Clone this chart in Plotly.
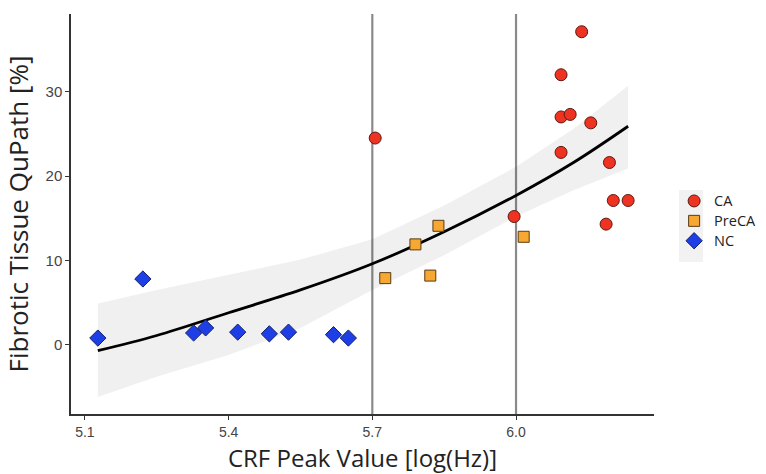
import plotly.graph_objects as go

# ---- data ----
ca_x = [5.706, 6.137, 6.094, 6.094, 6.113, 6.156, 6.094, 6.195, 6.203, 6.234, 6.188, 5.996]
ca_y = [24.5, 37.1, 32.0, 27.0, 27.3, 26.3, 22.8, 21.6, 17.1, 17.1, 14.3, 15.2]

preca_x = [5.727, 5.790, 5.821, 5.838, 6.016]
preca_y = [7.9, 11.9, 8.2, 14.1, 12.8]

nc_x = [5.127, 5.221, 5.327, 5.352, 5.419, 5.485, 5.525, 5.619, 5.650]
nc_y = [0.8, 7.8, 1.4, 2.0, 1.5, 1.3, 1.5, 1.2, 0.8]

fit_x = [5.127, 5.25, 5.4, 5.55, 5.7, 5.85, 6.0, 6.12, 6.234]
fit_y = [-0.7, 1.1, 3.8, 6.5, 9.6, 13.4, 17.7, 21.6, 25.9]
fit_hi = [4.9, 6.5, 8.3, 10.1, 12.5, 16.5, 21.1, 25.6, 30.7]
fit_lo = [-6.2, -3.8, -1.2, 2.0, 6.5, 10.6, 15.2, 18.3, 20.9]

thresholds = [5.7, 6.0]
x_ticks = [5.1, 5.4, 5.7, 6.0]
y_ticks = [0, 10, 20, 30]
groups = ["CA", "PreCA", "NC"]


def leg(name):
    return "<span style='font-size:14.5px'>%s</span>" % name


fig = go.Figure()

# confidence band
fig.add_trace(go.Scatter(x=fit_x + fit_x[::-1], y=fit_hi + fit_lo[::-1],
                         fill="toself", fillcolor="rgba(0,0,0,0.06)",
                         line=dict(width=0), mode="lines",
                         showlegend=False, hoverinfo="skip"))
# fit line
fig.add_trace(go.Scatter(x=fit_x, y=fit_y, mode="lines",
                         line=dict(color="black", width=2.8, shape="spline"),
                         showlegend=False, hoverinfo="skip"))

# points
fig.add_trace(go.Scatter(x=ca_x, y=ca_y, mode="markers", name=leg(groups[0]),
                         marker=dict(symbol="circle", size=12, color="#EE3322",
                                     line=dict(color="#5a1a10", width=1))))
fig.add_trace(go.Scatter(x=preca_x, y=preca_y, mode="markers", name=leg(groups[1]),
                         marker=dict(symbol="square", size=11, color="#F7A832",
                                     line=dict(color="#5a3a10", width=1))))
fig.add_trace(go.Scatter(x=nc_x, y=nc_y, mode="markers", name=leg(groups[2]),
                         marker=dict(symbol="diamond", size=12.5, color="#1E3FE6",
                                     line=dict(color="#14206a", width=1))))

for t in thresholds:
    fig.add_shape(type="line", xref="x", yref="paper", x0=t, x1=t, y0=0, y1=1,
                  line=dict(color="#8a8a8a", width=2.2), layer="below")

# legend key background
fig.add_shape(type="rect", xref="paper", yref="paper", x0=1.043, x1=1.084,
              y0=0.38, y1=0.56, fillcolor="#F2F2F2", line=dict(width=0), layer="below")

fig.update_layout(
    width=766, height=474,
    margin=dict(l=71, r=112, t=14, b=60, autoexpand=False),
    plot_bgcolor="white", paper_bgcolor="white",
    legend=dict(x=1.0345, y=0.4825, xanchor="left", yanchor="middle",
                font=dict(family="Open Sans", size=13, color="#222"),
                bgcolor="rgba(0,0,0,0)", itemwidth=30, tracegroupgap=0),
    xaxis=dict(range=[5.071, 6.288], tickvals=x_ticks, ticktext=["5.1", "5.4", "5.7", "6.0"],
               showgrid=False, zeroline=False, showline=True, linecolor="#333", linewidth=1.5,
               ticks="outside", ticklen=4, tickcolor="#333",
               tickfont=dict(family="Liberation Sans Narrow, Liberation Sans", size=14, color="#444"),
               title=dict(text="CRF Peak Value [log(Hz)]", standoff=13,
                          font=dict(family="Open Sans", size=24, color="#222"))),
    yaxis=dict(range=[-8.2, 39.2], tickvals=y_ticks,
               showgrid=False, zeroline=False, showline=True, linecolor="#333", linewidth=1.5,
               ticks="outside", ticklen=4, tickcolor="#333",
               tickfont=dict(family="Liberation Sans Narrow, Liberation Sans", size=15, color="#444"),
               title=dict(text="Fibrotic Tissue QuPath [%]", standoff=10,
                          font=dict(family="Open Sans", size=26, color="#222"))),
)

fig.write_html("out.html")
